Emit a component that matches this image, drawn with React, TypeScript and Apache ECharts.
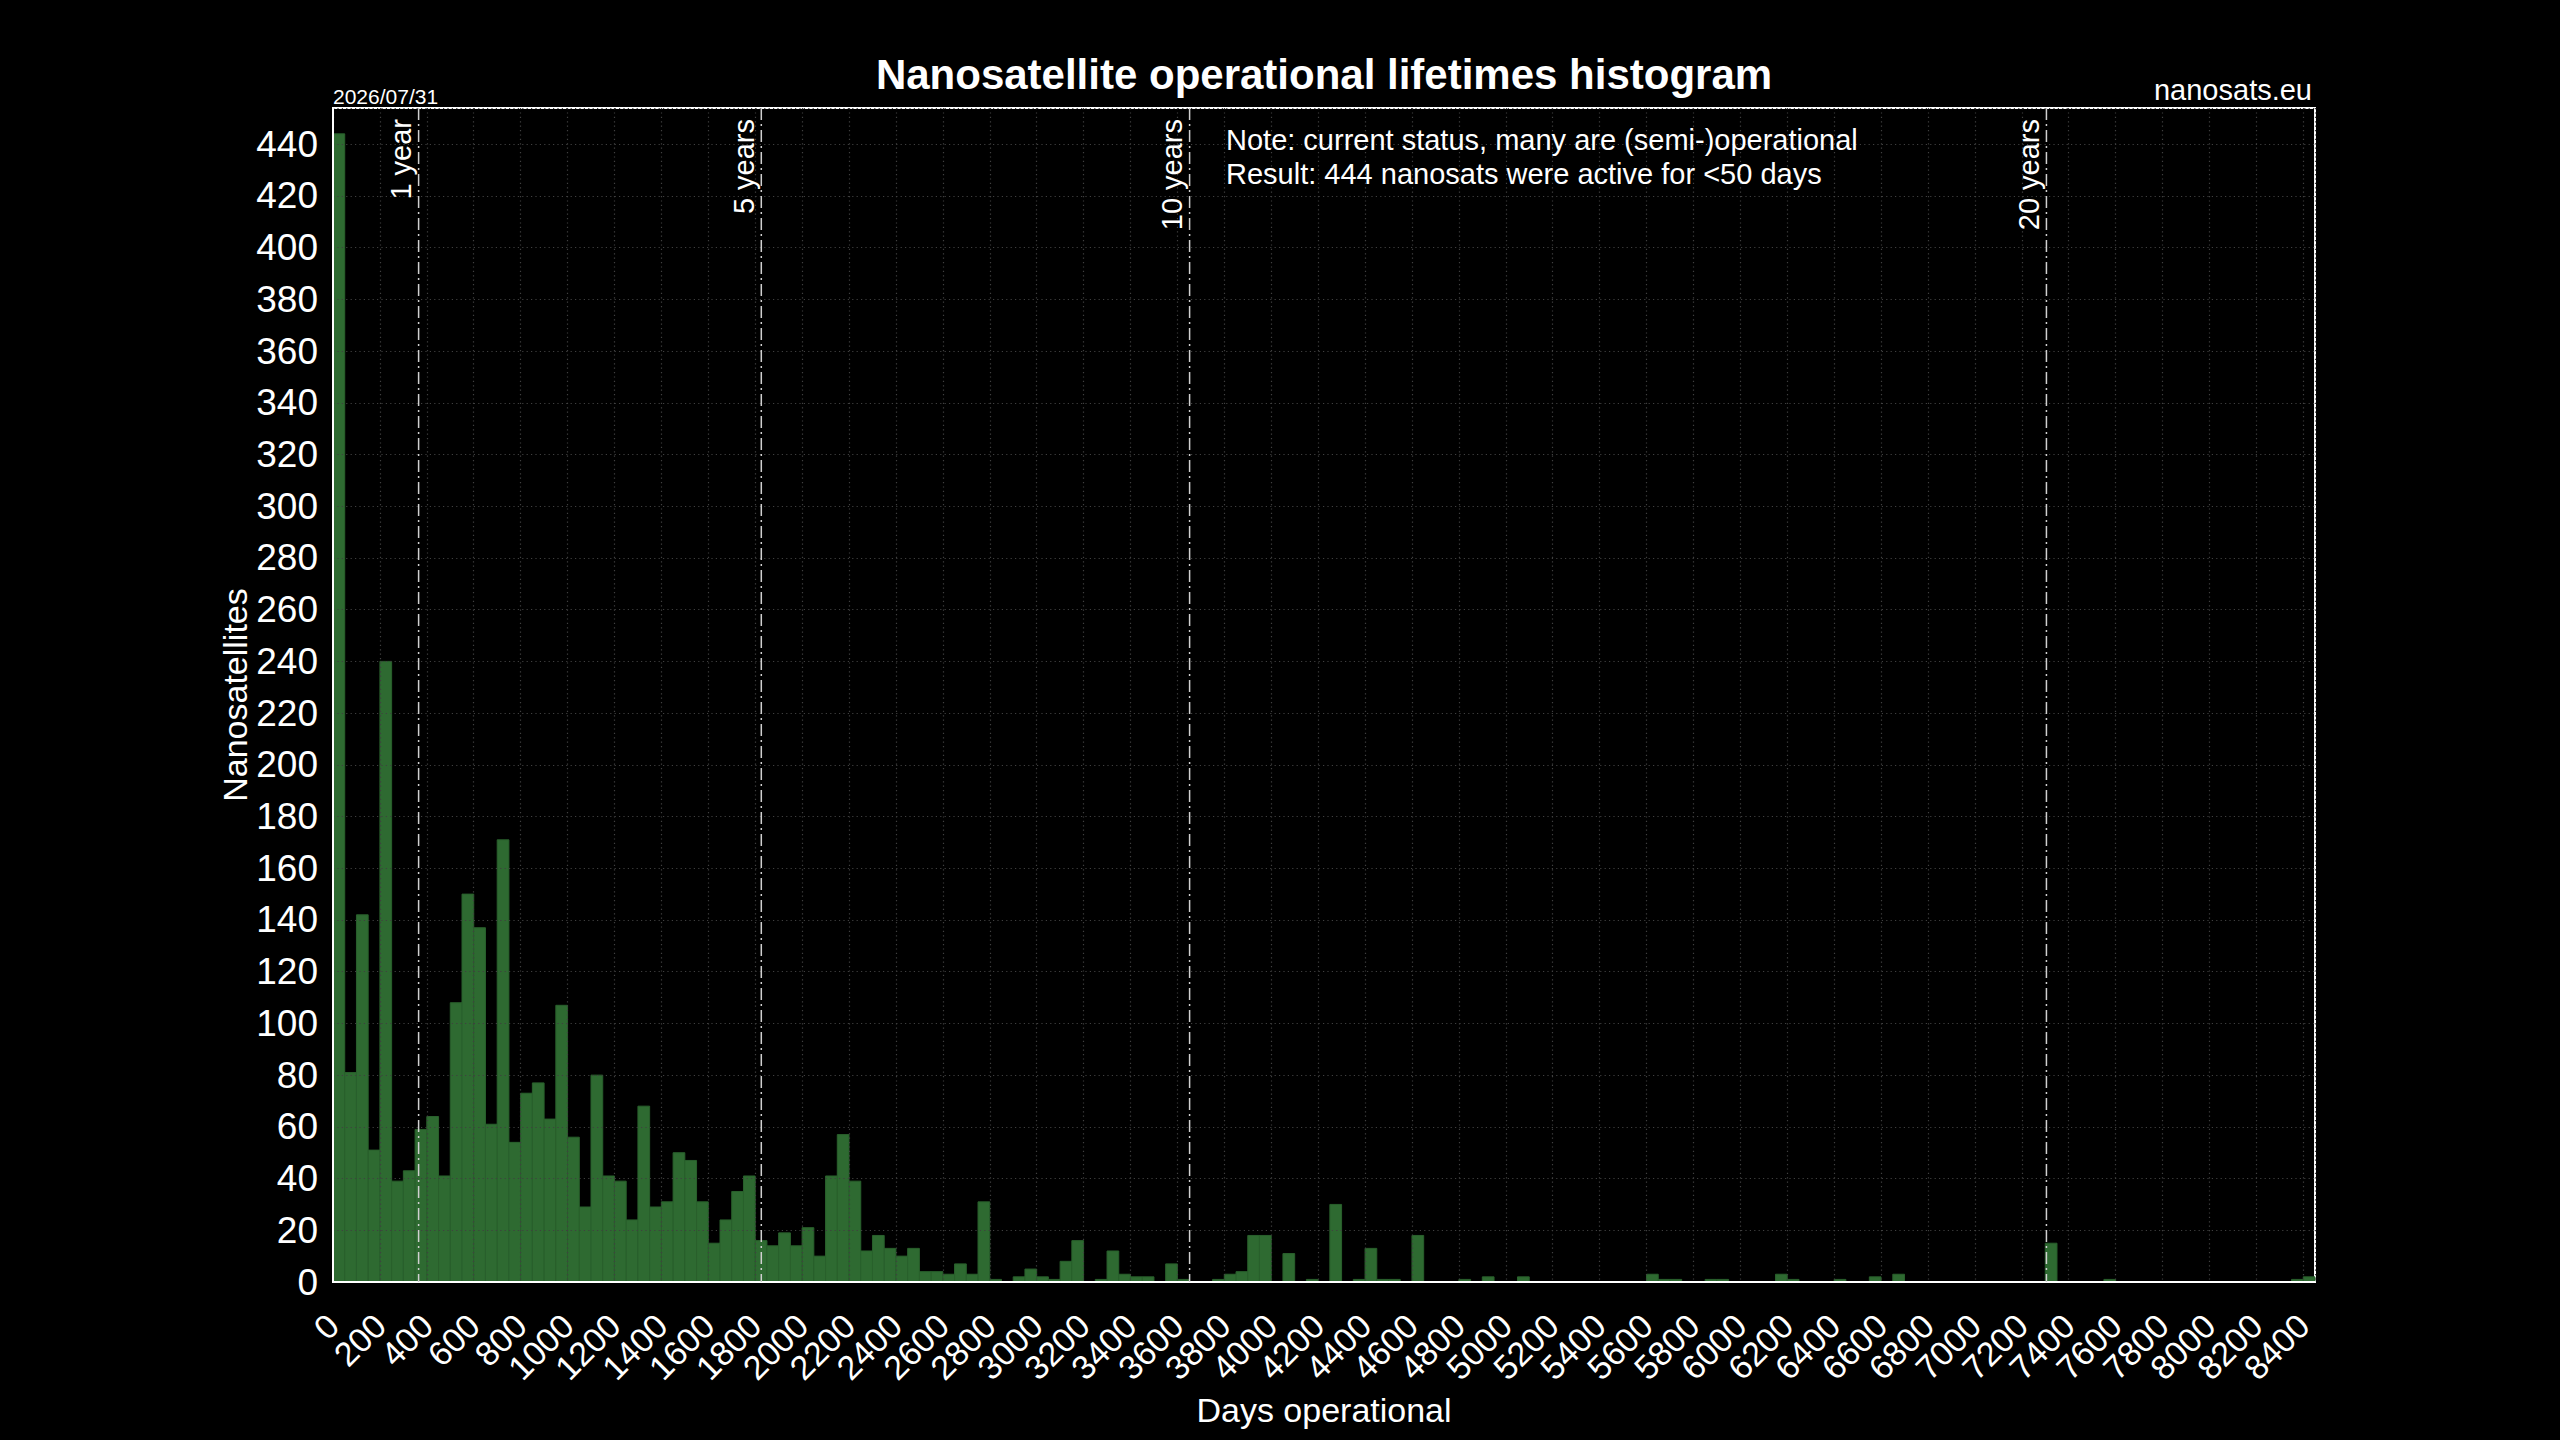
import React, { useEffect, useRef } from 'react';
import * as echarts from 'echarts';

// Histogram: bins of 50 days starting at 0
const BIN_WIDTH = 50;
const binCounts = [
  444, 81, 142, 51, 240, 39, 43, 59, 64, 41,
  108, 150, 137, 61, 171, 54, 73, 77, 63, 107,
  56, 29, 80, 41, 39, 24, 68, 29, 31, 50,
  47, 31, 15, 24, 35, 41, 16, 14, 19, 14,
  21, 10, 41, 57, 39, 12, 18, 13, 10, 13,
  4, 4, 3, 7, 3, 31, 1, 0, 2, 5,
  2, 1, 8, 16, 0, 1, 12, 3, 2, 2,
  0, 7, 1, 0, 0, 1, 3, 4, 18, 18,
  0, 11, 0, 1, 0, 30, 0, 1, 13, 1,
  1, 0, 18, 0, 0, 0, 1, 0, 2, 0,
  0, 2, 0, 0, 0, 0, 0, 0, 0, 0,
  0, 0, 3, 1, 1, 0, 0, 1, 1, 0,
  0, 0, 0, 3, 1, 0, 0, 0, 1, 0,
  0, 2, 0, 3, 0, 0, 0, 0, 0, 0,
  0, 0, 0, 0, 0, 0, 15, 0, 0, 0,
  0, 1, 0, 0, 0, 0, 0, 0, 0, 0,
  0, 0, 0, 0, 0, 0, 0, 1, 2,
];

const markerDays = [365, 1826, 3652, 7305];
const markerLabels = ['1 year', '5 years', '10 years', '20 years'];

const X_MAX = 8450;
const X_TICK_STEP = 200;
const Y_MAX = 454;
const Y_TICK_STEP = 20;

const titleText = 'Nanosatellite operational lifetimes histogram';
const dateText = '2026/07/31';
const sourceText = 'nanosats.eu';
const noteLines = [
  'Note: current status, many are (semi-)operational',
  'Result: 444 nanosats were active for <50 days',
];
const xAxisTitle = 'Days operational';
const yAxisTitle = 'Nanosatellites';

const FONT = '"Liberation Sans", Arial, Helvetica, sans-serif';

export default function App() {
  const ref = useRef<HTMLDivElement>(null);

  useEffect(() => {
    if (!ref.current) return;
    const chart = echarts.init(ref.current, null, { renderer: 'svg' });

    const histData = binCounts
      .map((c, i) => [i * BIN_WIDTH, (i + 1) * BIN_WIDTH, c])
      .filter((d) => d[2] > 0);

    const gridLine = { color: '#404040', width: 1.2, type: [1.2, 3.2] as any };

    const xLabelBase = {
      color: '#ffffff',
      fontSize: 34,
      fontFamily: FONT,
      rotate: 45,
      margin: 38,
      hideOverlap: false,
    };

    const option: any = {
      animation: false,
      backgroundColor: '#000000',
      grid: {
        left: 333,
        right: 245,
        top: 108,
        bottom: 158,
        show: true,
        borderColor: '#ffffff',
        borderWidth: 2,
        backgroundColor: 'transparent',
      },
      xAxis: [
        {
          type: 'value',
          position: 'bottom',
          min: 0,
          max: X_MAX,
          interval: X_TICK_STEP,
          z: 3,
          axisLine: { show: true, onZero: false, lineStyle: { color: '#ffffff', width: 2 } },
          axisTick: { show: false },
          axisLabel: {
            ...xLabelBase,
            formatter: (v: number) => (v % X_TICK_STEP === 0 && v > 0 ? String(v) : ''),
          },
          splitLine: { show: true, lineStyle: gridLine },
        },
        {
          // carries only the "0" label, which the first axis drops for overlap
          type: 'value',
          position: 'bottom',
          min: 0,
          max: X_MAX,
          interval: X_TICK_STEP,
          z: 3,
          axisLine: { show: false, onZero: false },
          axisTick: { show: false },
          axisLabel: {
            ...xLabelBase,
            showMinLabel: true,
            formatter: (v: number) => (v === 0 ? '0' : ''),
          },
          splitLine: { show: false },
        },
      ],
      yAxis: {
        type: 'value',
        min: 0,
        max: Y_MAX,
        interval: Y_TICK_STEP,
        z: 3,
        axisLine: { show: true, onZero: false, lineStyle: { color: '#ffffff', width: 2 } },
        axisTick: { show: false },
        axisLabel: {
          color: '#ffffff',
          fontSize: 37,
          fontFamily: FONT,
          margin: 15,
          showMinLabel: true,
          formatter: (v: number) => (v % Y_TICK_STEP === 0 ? String(v) : ''),
        },
        splitLine: { show: true, lineStyle: gridLine },
      },
      series: [
        {
          type: 'custom',
          z: 2,
          silent: true,
          xAxisIndex: 0,
          data: histData,
          encode: { x: [0, 1], y: 2 },
          renderItem: (params: any, api: any) => {
            const x0 = api.value(0);
            const x1 = api.value(1);
            const v = api.value(2);
            const p0 = api.coord([x0, v]);
            const p1 = api.coord([x1, 0]);
            return {
              type: 'rect',
              shape: { x: p0[0], y: p0[1], width: p1[0] - p0[0], height: p1[1] - p0[1] },
              style: { fill: '#2e6a31', stroke: '#29602c', lineWidth: 1 },
            };
          },
        },
        {
          type: 'custom',
          z: 4,
          silent: true,
          xAxisIndex: 0,
          data: markerDays.map((d) => [d]),
          encode: { x: 0 },
          renderItem: (params: any, api: any) => {
            const x = api.value(0);
            const top = api.coord([x, Y_MAX]);
            const bot = api.coord([x, 0]);
            return {
              type: 'group',
              children: [
                {
                  type: 'line',
                  shape: { x1: top[0], y1: top[1], x2: bot[0], y2: bot[1] },
                  style: { stroke: '#d0d0d0', lineWidth: 1.5, lineDash: [12, 4, 2, 4] },
                },
                {
                  type: 'text',
                  x: top[0] - 3,
                  y: top[1] + 11,
                  rotation: Math.PI / 2,
                  style: {
                    text: markerLabels[params.dataIndex],
                    fill: '#ffffff',
                    fontSize: 29,
                    fontFamily: FONT,
                    align: 'right',
                    verticalAlign: 'bottom',
                    textAlign: 'right',
                    textVerticalAlign: 'bottom',
                  },
                },
              ],
            };
          },
        },
      ],
      graphic: [
        {
          type: 'text',
          x: 1324,
          y: 74,
          style: {
            text: titleText,
            fill: '#ffffff',
            fontSize: 42,
            fontWeight: 'bold',
            fontFamily: FONT,
            align: 'center',
            verticalAlign: 'middle',
          },
        },
        {
          type: 'text',
          x: 333,
          y: 96,
          style: {
            text: dateText,
            fill: '#ffffff',
            fontSize: 21,
            fontFamily: FONT,
            align: 'left',
            verticalAlign: 'middle',
          },
        },
        {
          type: 'text',
          x: 2312,
          y: 90,
          style: {
            text: sourceText,
            fill: '#ffffff',
            fontSize: 29,
            fontFamily: FONT,
            align: 'right',
            verticalAlign: 'middle',
          },
        },
        ...noteLines.map((t, i) => ({
          type: 'text',
          x: 1226,
          y: 140 + i * 34,
          z: 10,
          style: {
            text: t,
            fill: '#ffffff',
            fontSize: 29,
            fontFamily: FONT,
            align: 'left',
            verticalAlign: 'middle',
          },
        })),
        {
          type: 'text',
          x: 1324,
          y: 1410,
          style: {
            text: xAxisTitle,
            fill: '#ffffff',
            fontSize: 34,
            fontFamily: FONT,
            align: 'center',
            verticalAlign: 'middle',
          },
        },
        {
          type: 'text',
          x: 235,
          y: 695,
          rotation: Math.PI / 2,
          style: {
            text: yAxisTitle,
            fill: '#ffffff',
            fontSize: 34,
            fontFamily: FONT,
            align: 'center',
            verticalAlign: 'middle',
          },
        },
      ],
    };

    chart.setOption(option);
    return () => {
      chart.dispose();
    };
  }, []);

  return (
    <div
      ref={ref}
      style={{ position: 'fixed', left: 0, top: 0, width: 2560, height: 1440, background: '#000' }}
    />
  );
}
